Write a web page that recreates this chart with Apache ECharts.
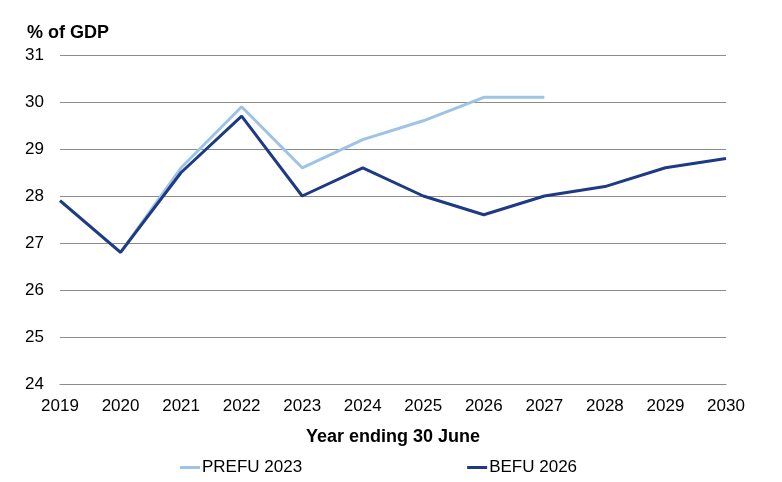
<!DOCTYPE html>
<html>
<head>
<meta charset="utf-8">
<script src="https://cdn.jsdelivr.net/npm/echarts@6/dist/echarts.min.js"></script>
<style>
  html, body { margin: 0; padding: 0; background: #fff; }
  #chart { width: 782px; height: 482px; }
</style>
</head>
<body>
<div id="chart"></div>
<script>
const years = ['2019', '2020', '2021', '2022', '2023', '2024', '2025', '2026', '2027', '2028', '2029', '2030'];
const prefu2023 = [27.9, 26.8, 28.6, 29.9, 28.6, 29.2, 29.6, 30.1, 30.1, null, null, null];
const befu2026 = [27.9, 26.8, 28.5, 29.7, 28.0, 28.6, 28.0, 27.6, 28.0, 28.2, 28.6, 28.8];

const font = 'Liberation Sans, Arial, sans-serif';
const chart = echarts.init(document.getElementById('chart'));
chart.setOption({
  animation: false,
  textStyle: { fontFamily: font },
  title: {
    text: '% of GDP',
    left: 22, top: 19,
    textStyle: { fontSize: 18, fontWeight: 'bold', color: '#000', fontFamily: font }
  },
  grid: { left: 60, right: 56, top: 55, bottom: 98 },
  legend: {
    top: 454,
    left: 175,
    itemGap: 165,
    itemWidth: 20,
    itemHeight: 3,
    icon: 'rect',
    textStyle: { fontSize: 17, color: '#000', padding: [0, 0, 0, -3] },
    data: ['PREFU 2023', 'BEFU 2026']
  },
  xAxis: {
    type: 'category',
    data: years,
    boundaryGap: false,
    name: 'Year ending 30 June',
    nameLocation: 'middle',
    nameGap: 44,
    nameTextStyle: { fontSize: 18, fontWeight: 'bold', color: '#000' },
    axisLine: { lineStyle: { color: '#8c8c8c', width: 1 } },
    axisTick: { show: false },
    axisLabel: { fontSize: 17, color: '#000', margin: 14 }
  },
  yAxis: {
    type: 'value',
    min: 24, max: 31, interval: 1,
    axisLine: { show: false },
    axisTick: { show: false },
    axisLabel: { fontSize: 17, color: '#000', margin: 16 },
    splitLine: { lineStyle: { color: '#8c8c8c', width: 1 } }
  },
  series: [
    {
      name: 'PREFU 2023',
      type: 'line',
      data: prefu2023,
      symbol: 'none',
      color: '#9dc3e6',
      lineStyle: { width: 3, color: '#9dc3e6' }
    },
    {
      name: 'BEFU 2026',
      type: 'line',
      data: befu2026,
      symbol: 'none',
      color: '#1f3a85',
      lineStyle: { width: 3, color: '#1f3a85' }
    }
  ]
});
</script>
</body>
</html>
